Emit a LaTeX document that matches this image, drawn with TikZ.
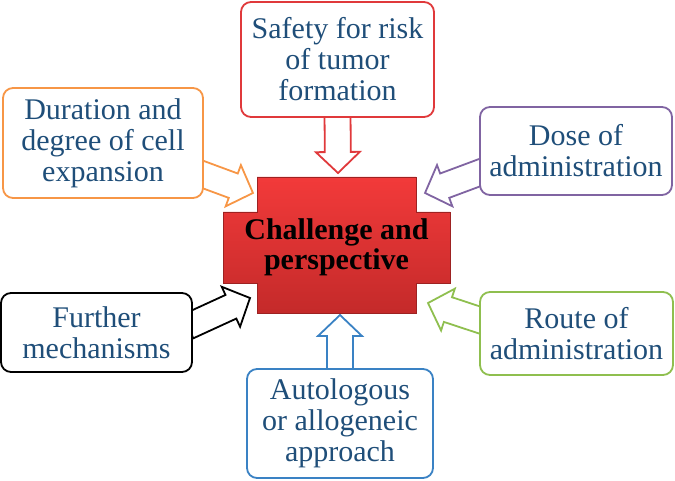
\documentclass[tikz,border=0pt]{standalone}
\usepackage{fontspec}
\setmainfont{Liberation Serif}
\usetikzlibrary{calc, backgrounds}
\definecolor{cred}{HTML}{E0393B}
\definecolor{corange}{HTML}{F79646}
\definecolor{cpurple}{HTML}{8064A2}
\definecolor{cgreen}{HTML}{8FBF4F}
\definecolor{cblue}{HTML}{3A82C4}
\definecolor{ctext}{HTML}{1F4E79}
\definecolor{redtop}{HTML}{F23A3A}
\definecolor{redbot}{HTML}{C42A2A}
\tikzset{
  box/.style={draw=#1, fill=white, rounded corners=10pt, line width=1.8pt, align=center,
    text=ctext, inner sep=2pt, font=\fontsize{30}{31}\selectfont},
  fat/.style={draw=#1, fill=white, line width=1.8pt, line join=miter},
}
% block arrow: start, tip, colour
\newcommand{\fatarrow}[3]{%
  \draw[fat=#3] let \p1=($(#2)-(#1)$), \n1={atan2(\y1,\x1)}, \n2={veclen(\x1,\y1)} in
    [shift={(#1)}, rotate=\n1]
    (0pt,-13pt) -- ({\n2-21pt},-13pt) -- ({\n2-21pt},-22pt) -- ({\n2*1pt},0pt)
    -- ({\n2-21pt},22pt) -- ({\n2-21pt},13pt) -- (0pt,13pt) -- cycle;}

\begin{document}
\begin{tikzpicture}[x=1pt, y=-1pt]
  \useasboundingbox (0,0) rectangle (675,481);

  % centre shape
  \path[top color=redtop, bottom color=redbot, draw=redbot!80!black, line width=0.6pt]
    (257,177) -- (416,177) -- (416,212) -- (450,212) -- (450,283) -- (416,283)
    -- (416,313) -- (257,313) -- (257,283) -- (223,283) -- (223,212) -- (257,212) -- cycle;
  \node[align=center, font=\fontsize{30}{30}\selectfont\bfseries] (chal) at (336.5,247)
    {Challenge and\\perspective};

  % outer boxes
  \node[box=cred, minimum width=193, minimum height=115] (safety) at (337.5,59.5)
    {Safety for risk\\of tumor\\formation};
  \node[box=corange, minimum width=200, minimum height=110] (dur) at (103,143)
    {Duration and\\degree of cell\\expansion};
  \node[box=cpurple, minimum width=192, minimum height=88] (dose) at (576,151)
    {Dose of\\administration};
  \node[box=cgreen, minimum width=193, minimum height=83] (route) at (576.5,333.5)
    {Route of\\administration};
  \node[box=black, minimum width=191, minimum height=79] (further) at (96.5,332.5)
    {Further\\mechanisms};
  \node[box=cblue, minimum width=186, minimum height=109] (auto) at (340,423.5)
    {Autologous\\or allogeneic\\approach};

  % arrow tips
  \coordinate (tS) at (338,173);
  \coordinate (tD) at (253,193);
  \coordinate (tP) at (425,193);
  \coordinate (tR) at (428,303);
  \coordinate (tF) at (250,298);
  \coordinate (tA) at (340,315);

  \begin{scope}[on background layer]
    \fatarrow{$(safety.south)+(0,-5)$}{tS}{cred}
    \fatarrow{$(dur.east)+(-5,30)$}{tD}{corange}
    \fatarrow{$(dose.west)+(5,20)$}{tP}{cpurple}
    \fatarrow{$(route.west)+(5,-12)$}{tR}{cgreen}
    \fatarrow{$(further.east)+(-5,-6)$}{tF}{black}
    \fatarrow{$(auto.north)+(0,5)$}{tA}{cblue}
  \end{scope}
\end{tikzpicture}
\end{document}
